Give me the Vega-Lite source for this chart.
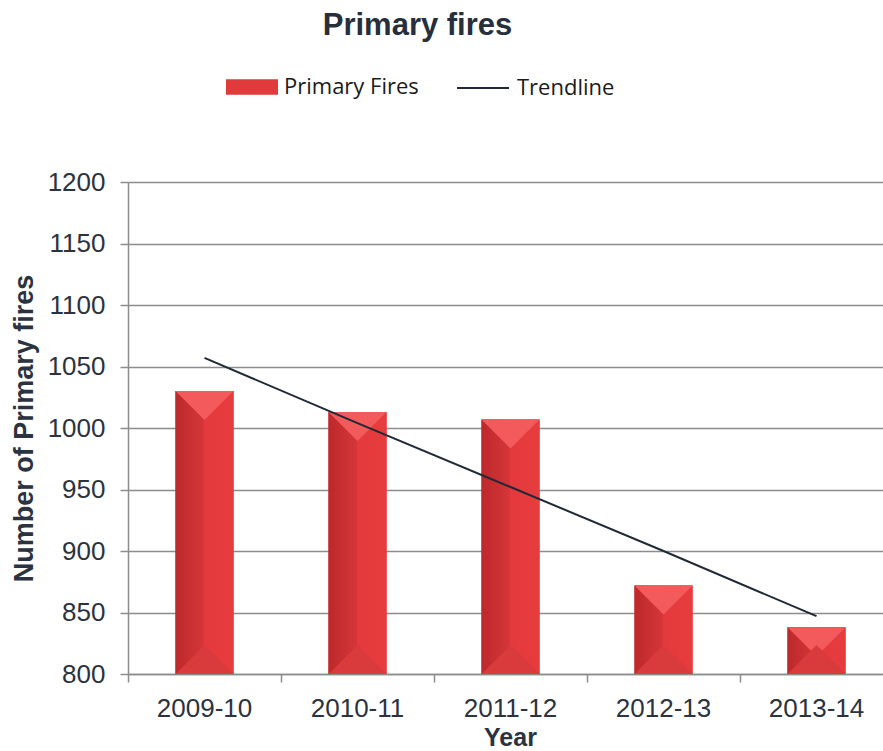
{
  "$schema": "https://vega.github.io/schema/vega-lite/v6.json",
  "autosize": "none",
  "width": 765,
  "height": 492,
  "padding": {"left": 128, "top": 182, "right": 0, "bottom": 77},
  "background": "white",
  "title": {
    "text": "Primary fires",
    "font": "Liberation Sans",
    "fontSize": 31,
    "fontWeight": "bold",
    "color": "#262f3b",
    "anchor": "middle",
    "dx": -93,
    "offset": 19
  },
  "datasets": {
    "bars": [
      {"year": "2009-10", "fires": 1030, "series": "Primary Fires"},
      {"year": "2010-11", "fires": 1013, "series": "Primary Fires"},
      {"year": "2011-12", "fires": 1007, "series": "Primary Fires"},
      {"year": "2012-13", "fires": 872, "series": "Primary Fires"},
      {"year": "2013-14", "fires": 838, "series": "Primary Fires"}
    ],
    "trend": [
      {"year": "2009-10", "fires": 1057, "series": "Trendline"},
      {"year": "2010-11", "fires": 1004, "series": "Trendline"},
      {"year": "2011-12", "fires": 952, "series": "Trendline"},
      {"year": "2012-13", "fires": 900, "series": "Trendline"},
      {"year": "2013-14", "fires": 847, "series": "Trendline"}
    ]
  },
  "encoding": {
    "x": {
      "field": "year",
      "type": "nominal",
      "sort": null,
      "scale": {"paddingInner": 0, "paddingOuter": 0},
      "axis": {
        "title": "Year",
        "bandPosition": 0,
        "labelAngle": 0,
        "labelFont": "Liberation Sans",
        "labelFontSize": 26,
        "labelColor": "#2b3340",
        "labelPadding": 13,
        "tickSize": 8,
        "tickColor": "#8c8c8c",
        "tickWidth": 1.5,
        "domainColor": "#8c8c8c",
        "domainWidth": 1.5,
        "grid": false,
        "titleFont": "Liberation Sans",
        "titleFontSize": 25,
        "titleFontWeight": "bold",
        "titleColor": "#2b3340",
        "titlePadding": 4,
        "titleAnchor": "middle",
        "titleX": 382
      }
    },
    "y": {
      "field": "fires",
      "type": "quantitative",
      "scale": {"domain": [800, 1200], "zero": false, "nice": false},
      "axis": {
        "title": "Number of Primary fires",
        "values": [800, 850, 900, 950, 1000, 1050, 1100, 1150, 1200],
        "format": "d",
        "labelFont": "Liberation Sans",
        "labelFontSize": 26,
        "labelColor": "#2b3340",
        "labelPadding": 15,
        "tickSize": 8,
        "tickColor": "#8c8c8c",
        "tickWidth": 1.5,
        "domainColor": "#8c8c8c",
        "domainWidth": 1.5,
        "grid": true,
        "gridColor": "#8c8c8c",
        "gridWidth": 1.5,
        "titleFont": "Liberation Sans",
        "titleFontSize": 27,
        "titleFontWeight": "bold",
        "titleColor": "#2b3340",
        "titlePadding": 9
      }
    }
  },
  "layer": [
    {
      "data": {"name": "bars"},
      "mark": {"type": "bar", "width": {"band": 0.38}},
      "encoding": {
        "y2": {"datum": 800},
        "fill": {
          "field": "series",
          "type": "nominal",
          "scale": {"range": ["#e03a3c"]},
          "legend": {
            "title": null,
            "orient": "none",
            "legendX": 98,
            "legendY": -121,
            "padding": 0,
            "symbolType": "M-1,-0.3H1V0.3H-1Z",
            "symbolSize": 2704,
            "symbolStrokeWidth": 0,
            "symbolOpacity": 1,
            "labelFont": "Open Sans",
            "labelFontSize": 22,
            "labelColor": "#1a1a1a",
            "labelOffset": 6
          }
        }
      }
    },
    {
      "data": {"name": "bars"},
      "mark": {
        "type": "bar",
        "width": {"band": 0.38},
        "fill": {
          "gradient": "linear",
          "x1": 0, "x2": 1, "y1": 0, "y2": 0,
          "stops": [
            {"offset": 0, "color": "#bd292b"},
            {"offset": 0.5, "color": "#d53639"},
            {"offset": 0.5, "color": "#e43a3d"},
            {"offset": 1, "color": "#e63c3e"}
          ]
        }
      },
      "encoding": {"y2": {"datum": 800}}
    },
    {
      "data": {"name": "bars"},
      "mark": {
        "type": "point",
        "shape": "M-1,0L1,0L0,1Z",
        "size": 3364,
        "filled": true,
        "opacity": 1,
        "fill": "#f25a5c",
        "strokeWidth": 0
      },
      "encoding": {}
    },
    {
      "data": {"name": "bars"},
      "mark": {
        "type": "point",
        "shape": "M-1,0L1,0L0,-1Z",
        "size": 3364,
        "filled": true,
        "opacity": 1,
        "fill": "#d93a3c",
        "strokeWidth": 0
      },
      "encoding": {"y": {"datum": 800}}
    },
    {
      "data": {"name": "trend"},
      "mark": {"type": "line", "strokeWidth": 2},
      "encoding": {
        "stroke": {
          "field": "series",
          "type": "nominal",
          "scale": {"range": ["#1f2a36"]},
          "legend": {
            "title": null,
            "orient": "none",
            "legendX": 328,
            "legendY": -121,
            "padding": 0,
            "symbolType": "stroke",
            "symbolSize": 2704,
            "symbolStrokeWidth": 2,
            "labelFont": "Open Sans",
            "labelFontSize": 22,
            "labelColor": "#1a1a1a",
            "labelOffset": 7
          }
        }
      }
    }
  ],
  "config": {
    "view": {"stroke": null}
  }
}
